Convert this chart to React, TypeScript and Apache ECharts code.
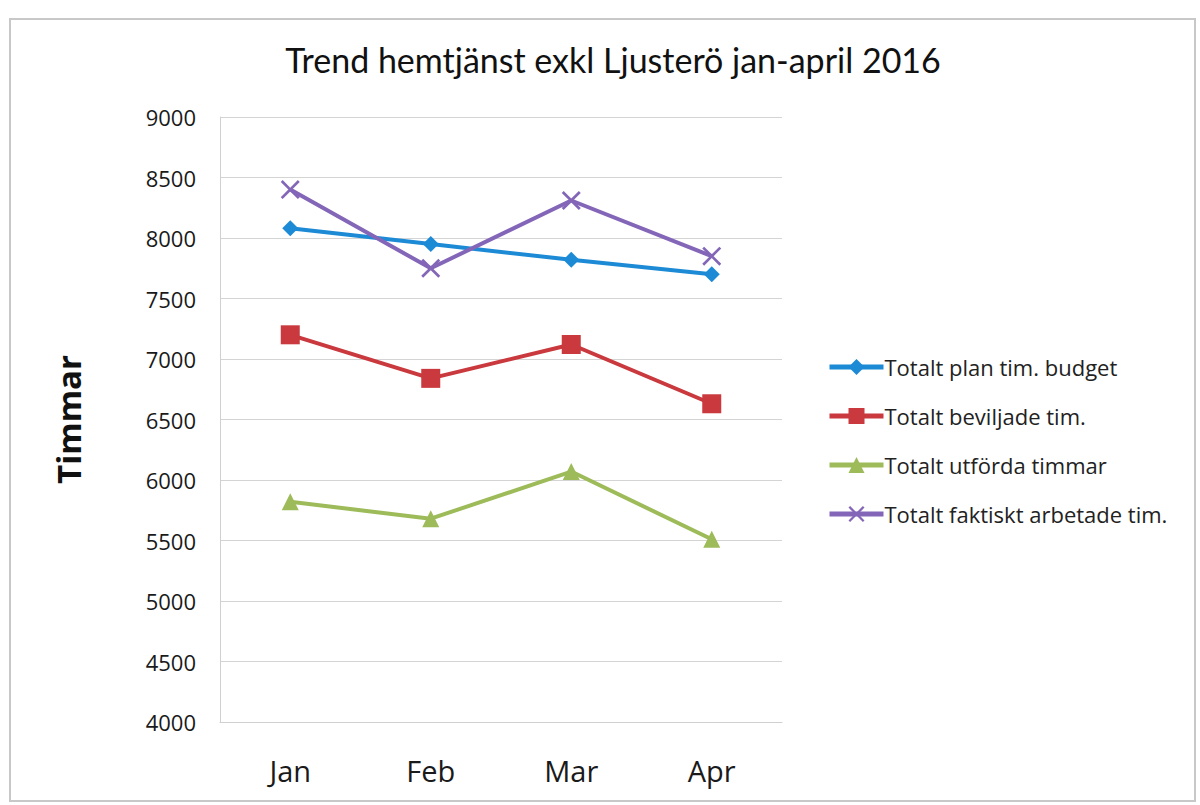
import React, { useEffect, useRef } from "react";
import * as echarts from "echarts";

const categories = ["Jan", "Feb", "Mar", "Apr"];
const planBudget = [8080, 7950, 7820, 7700];
const beviljade = [7200, 6840, 7120, 6630];
const utforda = [5820, 5680, 6070, 5510];
const faktiskt = [8400, 7750, 8310, 7850];
const seriesNames = [
  "Totalt plan tim. budget",
  "Totalt beviljade tim.",
  "Totalt utförda timmar",
  "Totalt faktiskt arbetade tim.",
];
const yMin = 4000;
const yMax = 9000;
const yStep = 500;

const crossPath =
  "path://M0,1 L1,0 L5,4 L9,0 L10,1 L6,5 L10,9 L9,10 L5,6 L1,10 L0,9 L4,5 Z";

export default function App() {
  const ref = useRef<HTMLDivElement>(null);
  useEffect(() => {
    document.body.style.margin = "0";
    const chart = echarts.init(ref.current!, undefined, { renderer: "svg" });
    const font = "'Open Sans', 'DejaVu Sans', sans-serif";
    const colors = ["#1d8ad6", "#c9393d", "#9dbb59", "#8466b8"];
    const symbols = ["diamond", "rect", "triangle", crossPath];
    const sizes = [16, 19, 17, 19];
    const datasets = [planBudget, beviljade, utforda, faktiskt];
    chart.setOption({
      animation: false,
      backgroundColor: "#ffffff",
      color: colors,
      title: {
        text: "Trend hemtjänst exkl Ljusterö jan-april 2016",
        left: 608,
        top: 37,
        textAlign: "center",
        textStyle: {
          fontFamily: "Lato, 'Open Sans', sans-serif",
          fontSize: 34,
          fontWeight: "normal",
          color: "#111111",
        },
      },
      graphic: [
        {
          type: "rect",
          shape: { x: 10, y: 19, width: 1185, height: 782 },
          style: { fill: "none", stroke: "#c8c8c8", lineWidth: 2 },
          silent: true,
          z: -1,
        },
      ],
      grid: { left: 220, right: 418, top: 117, bottom: 83 },
      legend: {
        orient: "vertical",
        left: 822,
        top: 350,
        itemWidth: 54,
        itemHeight: 20,
        itemGap: 25,
        data: seriesNames,
        lineStyle: { width: 5 },
        textStyle: {
          fontFamily: font,
          fontSize: 22,
          color: "#222222",
          lineHeight: 24,
          padding: [0, 0, 0, -4],
        },
      },
      xAxis: {
        type: "category",
        data: categories,
        boundaryGap: true,
        axisLine: { show: true, lineStyle: { color: "#d0d0d0", width: 1 } },
        axisTick: { show: false },
        axisLabel: {
          fontFamily: font,
          fontSize: 29,
          color: "#1a1a1a",
          margin: 34,
        },
      },
      yAxis: {
        type: "value",
        min: yMin,
        max: yMax,
        interval: yStep,
        name: "Timmar",
        nameLocation: "middle",
        nameGap: 135,
        nameRotate: 90,
        nameTextStyle: {
          fontFamily: font,
          fontSize: 33,
          fontWeight: "bold",
          color: "#111111",
        },
        axisLine: { show: true, lineStyle: { color: "#d0d0d0", width: 1 } },
        axisTick: { show: false },
        splitLine: { show: true, lineStyle: { color: "#d4d4d4", width: 1 } },
        axisLabel: {
          fontFamily: font,
          fontSize: 22,
          color: "#1a1a1a",
          margin: 24,
          formatter: (v: number) => String(v),
        },
      },
      series: datasets.map((d, i) => ({
        name: seriesNames[i],
        type: "line",
        data: d,
        symbol: symbols[i],
        symbolSize: sizes[i],
        showSymbol: true,
        lineStyle: { width: 4, color: colors[i] },
        itemStyle: { color: colors[i] },
      })),
    });
    return () => chart.dispose();
  }, []);
  return <div ref={ref} style={{ width: 1200, height: 805 }} />;
}
